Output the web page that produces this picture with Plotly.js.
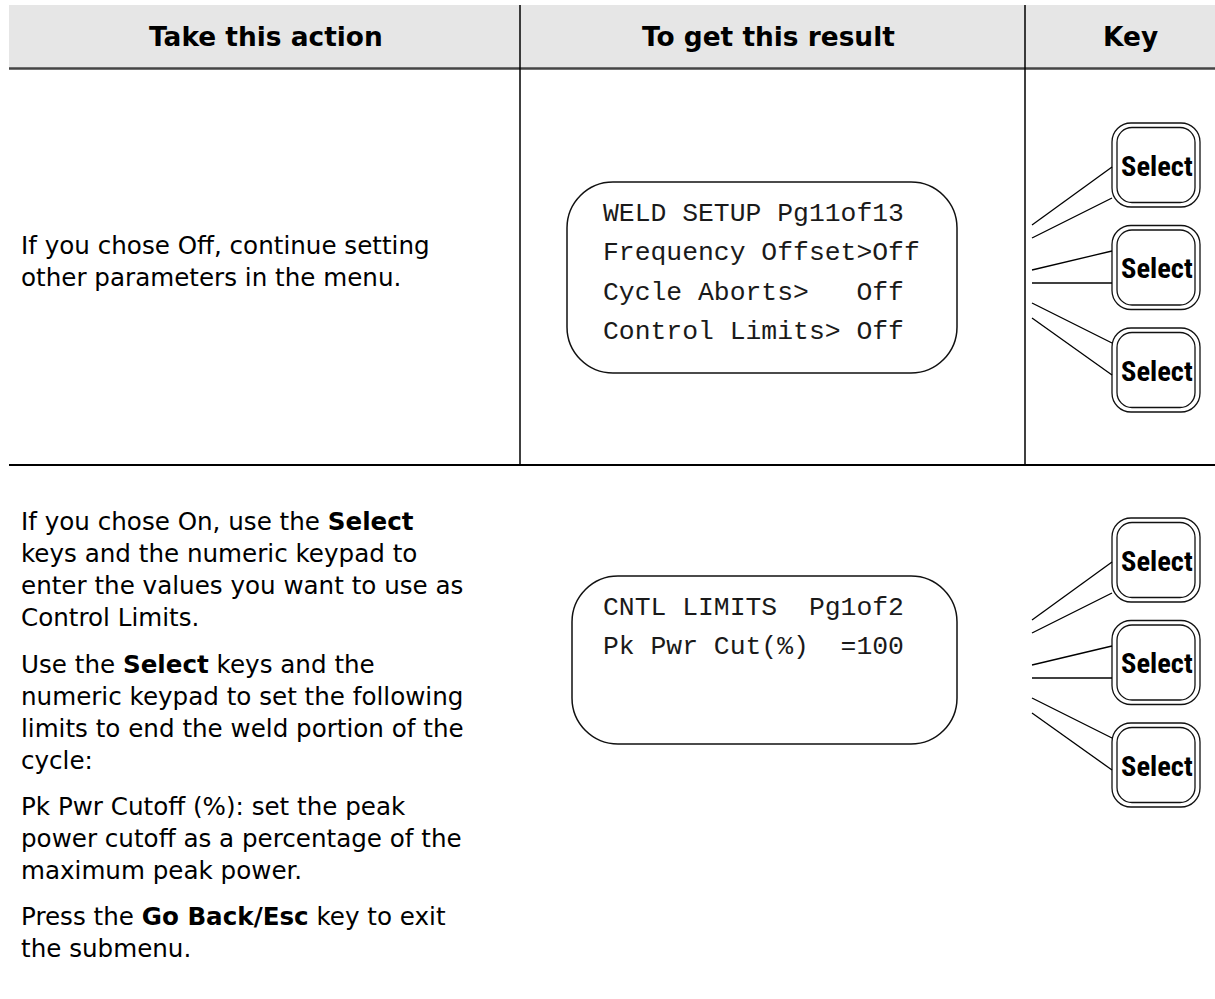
<!DOCTYPE html>
<html>
<head>
<meta charset="utf-8">
<script src="https://cdn.plot.ly/plotly-3.0.1.min.js"></script>
<style>html,body{margin:0;padding:0;background:#fff;}#chart{width:1215px;height:999px;}</style>
</head>
<body>
<div id="chart"></div>
<script>
// ---- content ----
var headers = ["Take this action", "To get this result", "Key"];
var row1Text = ["If you chose Off, continue setting", "other parameters in the menu."];
var row2Para1 = ["If you chose On, use the <b>Select</b>", "keys and the numeric keypad to", "enter the values you want to use as", "Control Limits."];
var row2Para2 = ["Use the <b>Select</b> keys and the", "numeric keypad to set the following", "limits to end the weld portion of the", "cycle:"];
var row2Para3 = ["Pk Pwr Cutoff (%): set the peak", "power cutoff as a percentage of the", "maximum peak power."];
var row2Para4 = ["Press the <b>Go Back/Esc</b> key to exit", "the submenu."];
var lcd1Lines = ["WELD SETUP Pg11of13", "Frequency Offset>Off", "Cycle Aborts>   Off", "Control Limits> Off"];
var lcd2Lines = ["CNTL LIMITS  Pg1of2", "Pk Pwr Cut(%)  =100"];
var keyLabel = "Select";

// ---- layout helpers ----
var BODY = "DejaVu Sans, Verdana, sans-serif";
var MONO = "Courier New, Nimbus Mono PS, FreeMono, Liberation Mono, monospace";
var NARROW = "Roboto Condensed, Roboto, Liberation Sans, sans-serif";
var shapes = [];
var ann = [];

function rrPath(x0, y0, x1, y1, r) {
  var k = 0.5523 * r;
  return "M" + (x0 + r) + "," + y0 +
    " L" + (x1 - r) + "," + y0 +
    " C" + (x1 - r + k) + "," + y0 + " " + x1 + "," + (y0 + r - k) + " " + x1 + "," + (y0 + r) +
    " L" + x1 + "," + (y1 - r) +
    " C" + x1 + "," + (y1 - r + k) + " " + (x1 - r + k) + "," + y1 + " " + (x1 - r) + "," + y1 +
    " L" + (x0 + r) + "," + y1 +
    " C" + (x0 + r - k) + "," + y1 + " " + x0 + "," + (y1 - r + k) + " " + x0 + "," + (y1 - r) +
    " L" + x0 + "," + (y0 + r) +
    " C" + x0 + "," + (y0 + r - k) + " " + (x0 + r - k) + "," + y0 + " " + (x0 + r) + "," + y0 + " Z";
}
function line(x0, y0, x1, y1, w, c) {
  shapes.push({type: "line", xref: "x", yref: "y", x0: x0, y0: y0, x1: x1, y1: y1, line: {color: c || "#000", width: w || 1.3}});
}
function text(t, x, y, opts) {
  opts = opts || {};
  ann.push({xref: "x", yref: "y", x: x, y: y, text: t, showarrow: false,
    xanchor: opts.xanchor || "left", yanchor: "middle",
    font: {family: opts.family || BODY, size: opts.size || 24.6, color: opts.color || "#000"}});
}
function nb(s) { return s.replace(/ /g, "\u00a0"); }

// header
shapes.push({type: "rect", xref: "x", yref: "y", x0: 9, y0: 5, x1: 1215, y1: 68, fillcolor: "#e6e6e6", line: {width: 0}, layer: "below"});
line(9, 68.5, 1215, 68.5, 2.5, "#454545");
// column dividers and row line
line(520, 5, 520, 465, 1.5, "#000");
line(1025, 5, 1025, 465, 1.5, "#000");
line(9, 465, 1215, 465, 2, "#000");

var headX = [266, 768, 1130];
headers.forEach(function (h, i) { text("<b>" + h + "</b>", headX[i], 36, {xanchor: "center", size: 26.4}); });

// row 1 text
row1Text.forEach(function (t, i) { text(t, 18.5, 245 + i * 32); });

// row 2 paragraphs
var paras = [[row2Para1, 521], [row2Para2, 664], [row2Para3, 806], [row2Para4, 916]];
paras.forEach(function (p) { p[0].forEach(function (t, i) { text(t, 18.5, p[1] + i * 32); }); });

// LCD boxes
shapes.push({type: "path", xref: "x", yref: "y", path: rrPath(567, 182, 957, 373, 46), line: {color: "#111", width: 1.5}});
lcd1Lines.forEach(function (t, i) { text(nb(t), 601, 214 + i * 39.3, {family: MONO, size: 26.4, color: "#1a1a1a"}); });
shapes.push({type: "path", xref: "x", yref: "y", path: rrPath(572, 576, 957, 744, 46), line: {color: "#111", width: 1.5}});
lcd2Lines.forEach(function (t, i) { text(nb(t), 601, 608 + i * 39.3, {family: MONO, size: 26.4, color: "#1a1a1a"}); });

// keys
function keyGroup(top0) {
  var tops = [top0, top0 + 102.5, top0 + 205];
  tops.forEach(function (t) {
    shapes.push({type: "path", xref: "x", yref: "y", path: rrPath(1112, t, 1200, t + 84, 19), line: {color: "#111", width: 1.3}});
    shapes.push({type: "path", xref: "x", yref: "y", path: rrPath(1117, t + 4.5, 1195, t + 79.5, 15), line: {color: "#111", width: 1.3}});
    text("<b>" + keyLabel + "</b>", 1156.5, t + 43, {xanchor: "center", family: NARROW, size: 28.5});
  });
  var d = top0 - 123;
  line(1032, 225 + d, 1112, 167 + d);
  line(1032, 238 + d, 1112, 198 + d);
  line(1032, 270 + d, 1112, 251 + d);
  line(1032, 283 + d, 1112, 283 + d);
  line(1032, 303 + d, 1112, 343 + d);
  line(1032, 318 + d, 1112, 375 + d);
}
keyGroup(123);
keyGroup(518);

var layout = {
  width: 1215, height: 999,
  margin: {l: 0, r: 0, t: 0, b: 0},
  paper_bgcolor: "#fff", plot_bgcolor: "#fff",
  showlegend: false,
  xaxis: {range: [0, 1215], visible: false, fixedrange: true},
  yaxis: {range: [999, 0], visible: false, fixedrange: true},
  shapes: shapes,
  annotations: ann
};
Plotly.newPlot("chart", [{x: [], y: [], type: "scatter", mode: "markers", hoverinfo: "skip"}], layout, {staticPlot: true, displayModeBar: false});
</script>
</body>
</html>
